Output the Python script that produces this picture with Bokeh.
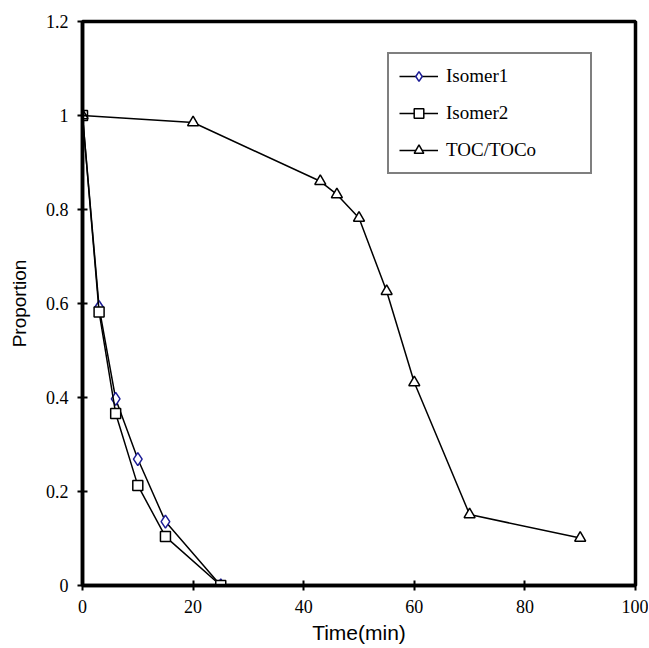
from bokeh.plotting import figure
from bokeh.models import Legend, LegendItem, FixedTicker, Range1d
from bokeh.embed import file_html
from bokeh.resources import INLINE

# Data
iso1_t = [0, 3, 6, 10, 15, 25]
iso1_v = [1.0, 0.592, 0.397, 0.269, 0.136, 0.0]
iso2_t = [0, 3, 6, 10, 15, 25]
iso2_v = [1.0, 0.582, 0.366, 0.213, 0.104, 0.0]
toc_t = [0, 20, 43, 46, 50, 55, 60, 70, 90]
toc_v = [1.0, 0.985, 0.86, 0.832, 0.782, 0.626, 0.432, 0.151, 0.101]

x_ticks = [0, 20, 40, 60, 80, 100]
y_ticks = [0, 0.2, 0.4, 0.6, 0.8, 1.0, 1.2]
y_tick_labels = ["0", "0.2", "0.4", "0.6", "0.8", "1", "1.2"]

p = figure(width=648, height=646, output_backend="svg", toolbar_location=None,
           x_range=Range1d(0, 100), y_range=Range1d(0, 1.2),
           min_border_left=82, min_border_right=13, min_border_top=21, min_border_bottom=56)

p.grid.visible = False
p.outline_line_color = "black"
p.outline_line_width = 3.5
p.background_fill_color = "white"
p.border_fill_color = "white"

SERIF = "Liberation Serif"
SANS = "Liberation Sans"
NAVY = "#1c1c96"

for ax in (p.xaxis[0], p.yaxis[0]):
    ax.axis_line_width = 3.5
    ax.axis_line_color = "black"
    ax.major_tick_line_width = 2
    ax.major_tick_in = 5
    ax.major_tick_out = 5
    ax.minor_tick_line_color = None
    ax.major_label_text_font = SERIF
    ax.major_label_text_font_size = "18px"
    ax.major_label_text_color = "black"
    ax.axis_label_text_font = SANS
    ax.axis_label_text_font_style = "normal"
    ax.axis_label_text_color = "black"

p.xaxis.axis_label_text_font_size = "21px"
p.yaxis.axis_label_text_font_size = "19px"
p.xaxis.ticker = FixedTicker(ticks=x_ticks)
p.yaxis.ticker = FixedTicker(ticks=y_ticks)
p.yaxis.major_label_overrides = {t: l for t, l in zip(y_ticks, y_tick_labels)}
p.xaxis.axis_label = "Time(min)"
p.yaxis.axis_label = "Proportion"
p.xaxis.major_label_standoff = 9
p.yaxis.major_label_standoff = 9
p.xaxis.axis_label_standoff = 5
p.yaxis.axis_label_standoff = 13

lw = 1.5
l1 = p.line(iso1_t, iso1_v, line_color="black", line_width=lw)
m1 = p.scatter(iso1_t, iso1_v, marker="diamond", size=13,
               fill_color="white", line_color=NAVY, line_width=1.5)
l2 = p.line(iso2_t, iso2_v, line_color="black", line_width=lw)
m2 = p.scatter(iso2_t, iso2_v, marker="square", size=10, fill_color="white",
               line_color="black", line_width=1.5)
l3 = p.line(toc_t, toc_v, line_color="black", line_width=lw)
m3 = p.scatter(toc_t, toc_v, marker="triangle", size=11, fill_color="white",
               line_color="black", line_width=1.5)

legend = Legend(items=[
    LegendItem(label="Isomer1", renderers=[l1, m1]),
    LegendItem(label="Isomer2", renderers=[l2, m2]),
    LegendItem(label="TOC/TOCo", renderers=[l3, m3]),
], location=(305, 411))
legend.label_text_font = SERIF
legend.label_text_font_size = "19px"
legend.label_text_color = "black"
legend.glyph_width = 39
legend.glyph_height = 24
legend.label_height = 20
legend.label_standoff = 8
legend.label_width = 134
legend.spacing = 13
legend.padding = 10
legend.margin = 0
legend.border_line_color = "black"
legend.border_line_width = 2
legend.background_fill_color = "white"
legend.background_fill_alpha = 1.0
p.add_layout(legend, "center")

open("out.html", "w").write(file_html(p, INLINE))
